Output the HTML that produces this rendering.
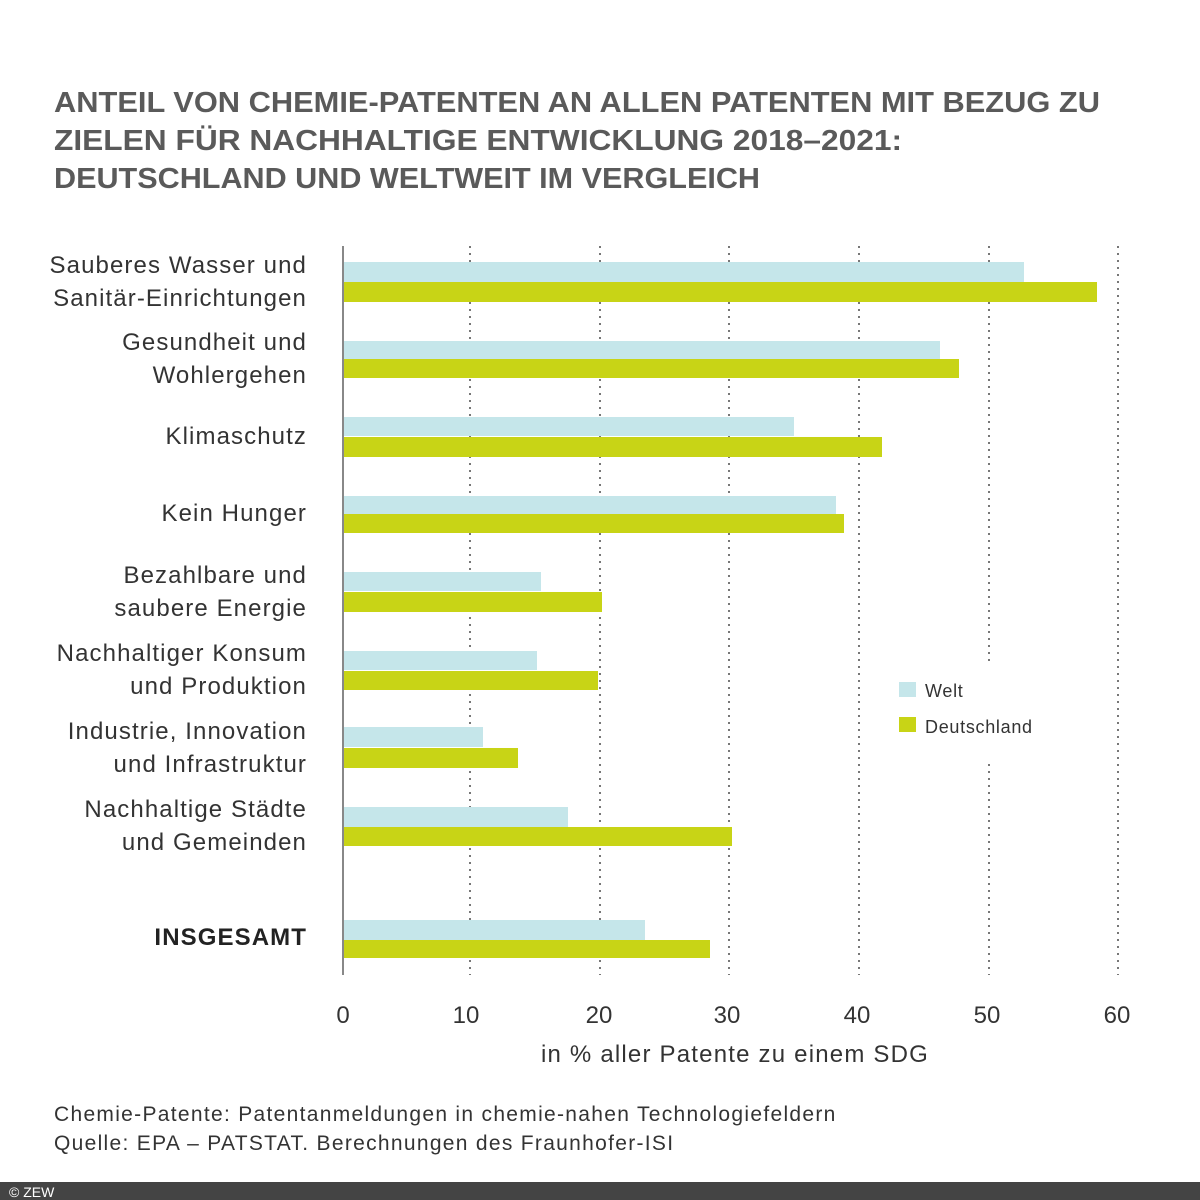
<!DOCTYPE html>
<html><head><meta charset="utf-8"><style>
html,body{margin:0;padding:0;background:#fff}
svg{display:block}
text{font-family:"Liberation Sans","DejaVu Sans",sans-serif}
</style></head><body>
<svg width="1200" height="1200" viewBox="0 0 1200 1200" xmlns="http://www.w3.org/2000/svg">
<rect width="1200" height="1200" fill="#fff"/>
<g fill="#5a5a5a" font-weight="bold" font-size="29">
<text x="54" y="112" textLength="1046" lengthAdjust="spacingAndGlyphs">ANTEIL VON CHEMIE-PATENTEN AN ALLEN PATENTEN MIT BEZUG ZU</text>
<text x="54" y="150" textLength="848" lengthAdjust="spacingAndGlyphs">ZIELEN FÜR NACHHALTIGE ENTWICKLUNG 2018–2021:</text>
<text x="54" y="188" textLength="706" lengthAdjust="spacingAndGlyphs">DEUTSCHLAND UND WELTWEIT IM VERGLEICH</text>
</g>
<g stroke="#777" stroke-width="2" stroke-dasharray="2 5">
<line x1="470" y1="246" x2="470" y2="975"/>
<line x1="600" y1="246" x2="600" y2="975"/>
<line x1="729" y1="246" x2="729" y2="975"/>
<line x1="859" y1="246" x2="859" y2="975"/>
<line x1="989" y1="246" x2="989" y2="975"/>
<line x1="1118" y1="246" x2="1118" y2="975"/>
</g>
<rect x="880" y="662" width="170" height="100" fill="#fff"/>
<g fill="#c5e6ea">
<rect x="343" y="262" width="681" height="20"/>
<rect x="343" y="341" width="597" height="18"/>
<rect x="343" y="417" width="451" height="19"/>
<rect x="343" y="496" width="493" height="18"/>
<rect x="343" y="572" width="198" height="19"/>
<rect x="343" y="651" width="194" height="19"/>
<rect x="343" y="727" width="140" height="20"/>
<rect x="343" y="807" width="225" height="20"/>
<rect x="343" y="920" width="302" height="20"/>
</g>
<g fill="#c8d416">
<rect x="343" y="282" width="754" height="20"/>
<rect x="343" y="359" width="616" height="19"/>
<rect x="343" y="437" width="539" height="20"/>
<rect x="343" y="514" width="501" height="19"/>
<rect x="343" y="592" width="259" height="20"/>
<rect x="343" y="671" width="255" height="19"/>
<rect x="343" y="748" width="175" height="20"/>
<rect x="343" y="827" width="389" height="19"/>
<rect x="343" y="940" width="367" height="18"/>
</g>
<line x1="343" y1="246" x2="343" y2="975" stroke="#888" stroke-width="2"/>
<rect x="899" y="682" width="17" height="15" fill="#c5e6ea"/>
<rect x="899" y="717" width="17" height="15" fill="#c8d416"/>
<g fill="#333" font-size="18" letter-spacing="0.7"><text x="925" y="697">Welt</text><text x="925" y="733">Deutschland</text></g>
<g fill="#333" font-size="24" text-anchor="end" letter-spacing="1.1">
<text x="307" y="273">Sauberes Wasser und</text><text x="307" y="306">Sanitär-Einrichtungen</text>
<text x="307" y="350">Gesundheit und</text><text x="307" y="383">Wohlergehen</text>
<text x="307" y="444">Klimaschutz</text>
<text x="307" y="521">Kein Hunger</text>
<text x="307" y="583">Bezahlbare und</text><text x="307" y="616">saubere Energie</text>
<text x="307" y="661">Nachhaltiger Konsum</text><text x="307" y="694">und Produktion</text>
<text x="307" y="739">Industrie, Innovation</text><text x="307" y="772">und Infrastruktur</text>
<text x="307" y="817">Nachhaltige Städte</text><text x="307" y="850">und Gemeinden</text>
<text x="307" y="945" font-weight="bold" fill="#222">INSGESAMT</text>
</g>
<g fill="#333" font-size="24" text-anchor="middle">
<text x="343" y="1023">0</text><text x="466" y="1023">10</text><text x="599" y="1023">20</text>
<text x="727" y="1023">30</text><text x="857" y="1023">40</text><text x="987" y="1023">50</text><text x="1117" y="1023">60</text>
<text x="735" y="1062" letter-spacing="1.2">in % aller Patente zu einem SDG</text>
</g>
<g fill="#333" font-size="21" letter-spacing="1.3">
<text x="54" y="1121">Chemie-Patente: Patentanmeldungen in chemie-nahen Technologiefeldern</text>
<text x="54" y="1150">Quelle: EPA – PATSTAT. Berechnungen des Fraunhofer-ISI</text>
</g>
<rect x="0" y="1182" width="1200" height="18" fill="#444"/>
<text x="9" y="1197" fill="#fff" font-size="14">© ZEW</text>
</svg>
</body></html>
